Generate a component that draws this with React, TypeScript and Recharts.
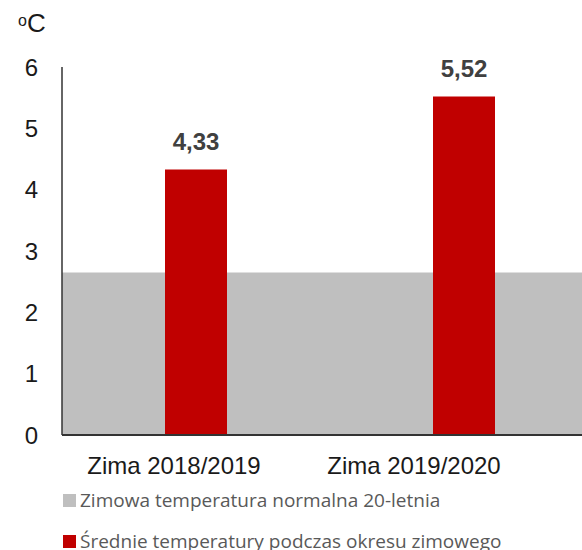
import { BarChart, Bar, XAxis, YAxis, ReferenceArea, LabelList } from "recharts";

const categories = ["Zima 2018/2019", "Zima 2019/2020"];
const averageTemps = [4.33, 5.52];
const normalTemp = [2.65];
const yTicks = [0, 1, 2, 3, 4, 5, 6];

const legendItems = [
  { label: "Zimowa temperatura normalna 20-letnia", color: "#bfbfbf" },
  { label: "Średnie temperatury podczas okresu zimowego", color: "#c00000" },
];

const data = categories.map((name, i) => ({ name, avg: averageTemps[i] }));

// the x labels sit a bit left of their bars in the original
const tickShift = [-22, -50];

const XTick = (props: any) => {
  const { x, y, payload, index } = props;
  return (
    <text
      x={x + (tickShift[index] ?? 0)}
      y={y}
      dy={33}
      textAnchor="middle"
      fontSize={24}
      fill="#1a1a1a"
      fontFamily="Liberation Sans, Arial, sans-serif"
    >
      {payload.value}
    </text>
  );
};

const App = () => {
  return (
    <div
      style={{
        position: "absolute",
        left: 0,
        top: 0,
        width: 582,
        height: 550,
        overflow: "hidden",
        background: "#fff",
        fontFamily: "Liberation Sans, Arial, sans-serif",
      }}
    >
      <div style={{ position: "absolute", left: 18, top: 8, fontSize: 26, color: "#1a1a1a" }}>
        <span style={{ fontSize: 16, position: "relative", top: -6 }}>o</span>C
      </div>
      <BarChart width={598} height={550} data={data} margin={{ top: 67, right: 0, left: 0, bottom: 75 }}>
        <ReferenceArea y1={0} y2={normalTemp[0]} fill="#bfbfbf" fillOpacity={1} stroke="none" />
        <XAxis
          dataKey="name"
          height={40}
          tickLine={false}
          tickMargin={0}
          axisLine={{ stroke: "#333", strokeWidth: 2 }}
          tick={<XTick />}
          interval={0}
        />
        <YAxis
          width={62}
          domain={[0, 6]}
          ticks={yTicks}
          tickLine={false}
          tickMargin={18}
          axisLine={{ stroke: "#333", strokeWidth: 1.5 }}
          tick={{ fontSize: 24, fill: "#1a1a1a", fontFamily: "Liberation Sans, Arial, sans-serif" }}
          interval={0}
        />
        <Bar dataKey="avg" fill="#c00000" barSize={62} isAnimationActive={false}>
          <LabelList
            dataKey="avg"
            position="top"
            offset={19}
            formatter={(v: any) => String(v).replace(".", ",")}
            style={{ fontSize: 24, fontWeight: 700, fill: "#404040", fontFamily: "Liberation Sans, Arial, sans-serif" }}
          />
        </Bar>
      </BarChart>
      <div style={{ position: "absolute", left: 63, top: 485, fontFamily: "Open Sans, sans-serif", fontSize: 19, color: "#595959" }}>
        {legendItems.map((item, i) => (
          <div key={item.label} style={{ display: "flex", alignItems: "center", height: 30, marginBottom: i === 0 ? 11 : 0 }}>
            <span style={{ width: 13, height: 13, background: item.color, marginRight: 4, flexShrink: 0 }} />
            <span style={{ whiteSpace: "nowrap" }}>{item.label}</span>
          </div>
        ))}
      </div>
    </div>
  );
};

export default App;
